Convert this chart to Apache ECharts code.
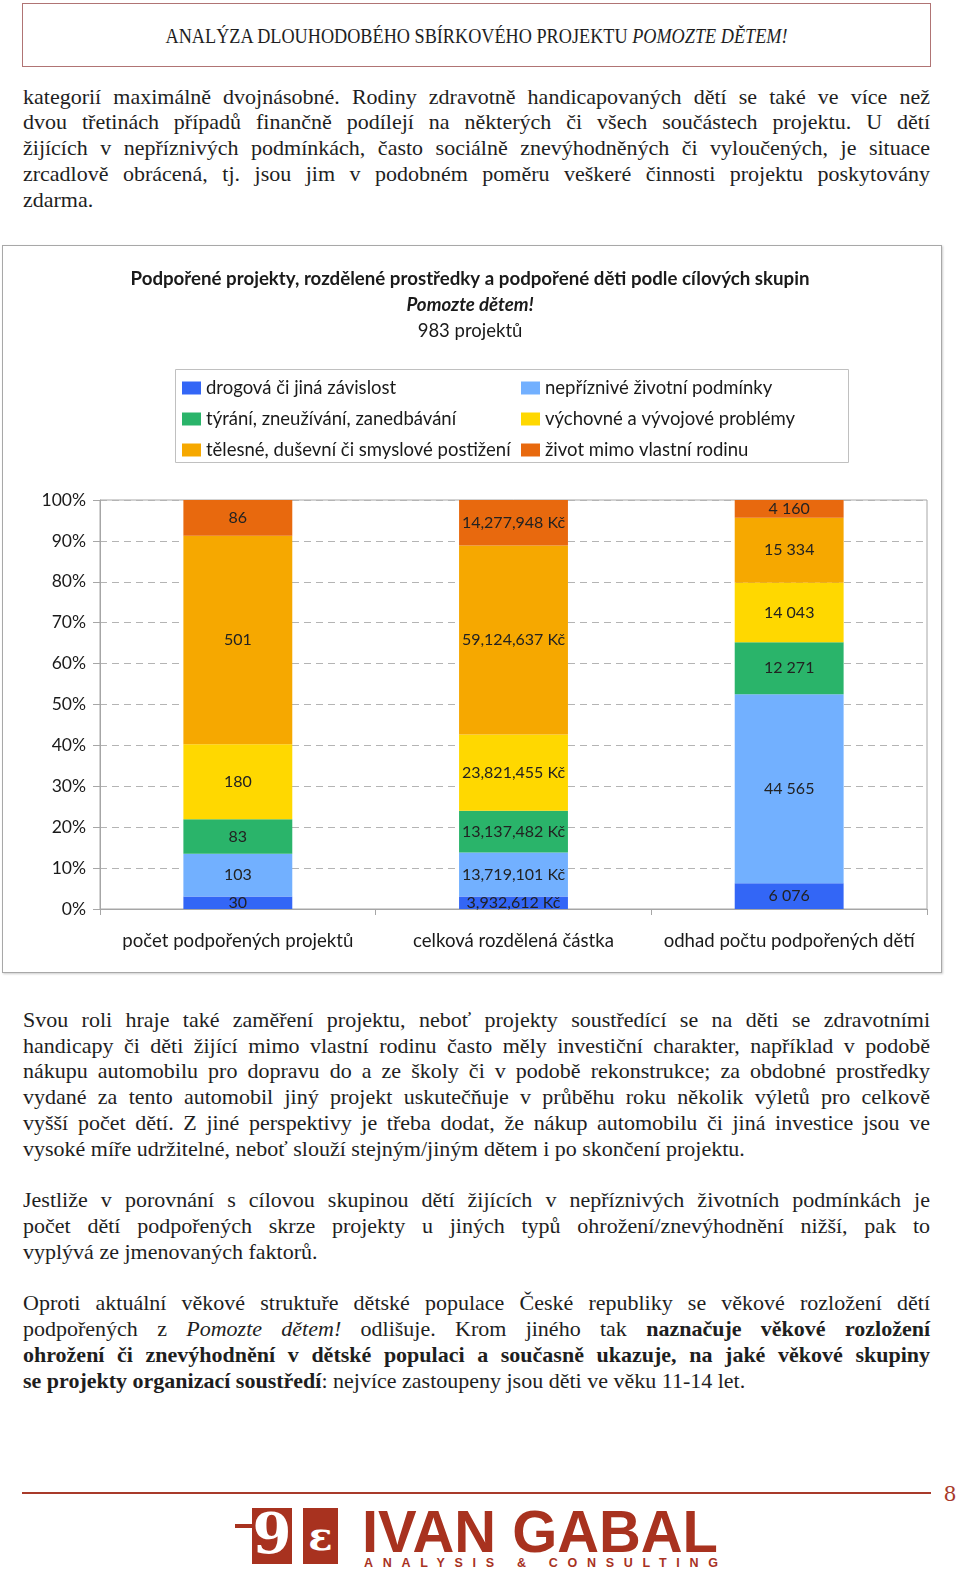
<!DOCTYPE html>
<html><head><meta charset="utf-8">
<script src="https://cdn.jsdelivr.net/npm/echarts@6/dist/echarts.min.js"></script>
<style>
html,body{margin:0;padding:0;background:#fff;}
body{width:960px;height:1573px;position:relative;overflow:hidden;font-family:"Liberation Serif",serif;color:#1e1e1e;}
.hdr{position:absolute;left:22px;top:3px;width:907px;height:62px;border:1px solid #b07474;}
.hdrw{position:absolute;left:0;width:954px;top:22px;text-align:center;font-size:22px;line-height:28px;white-space:nowrap;}
.hdrw span{display:inline-block;transform-origin:50% 50%;}
.ln{position:absolute;left:23px;width:907px;font-size:22px;line-height:26px;height:26px;white-space:nowrap;}
.j{text-align:justify;text-align-last:justify;}
#box{position:absolute;left:2px;top:245px;width:938px;height:726px;border:1px solid #a8a8a8;box-shadow:1px 1px 2px rgba(0,0,0,0.2);}
#chart{width:938px;height:726px;}
.rule{position:absolute;left:22px;top:1492px;width:909px;height:0;border-top:2px solid #a83a2a;}
.pg{position:absolute;left:944px;top:1479px;font-size:24px;line-height:28px;color:#a83a2a;}
.logo{position:absolute;left:362px;top:1502px;font-family:"Liberation Sans",sans-serif;font-weight:bold;font-size:60px;line-height:60px;color:#a8321f;white-space:nowrap;transform-origin:0 0;}
.logo2{position:absolute;left:364px;top:1556px;font-family:"Liberation Sans",sans-serif;font-weight:bold;font-size:12.5px;line-height:14px;color:#a8321f;white-space:nowrap;}
.blk{position:absolute;background:#a8321f;color:#fff;font-family:"DejaVu Serif",serif;font-weight:bold;text-align:center;overflow:hidden;}
</style></head>
<body>
<div class="hdr"></div>
<div class="hdrw"><span id="hdrspan">ANALÝZA DLOUHODOBÉHO SBÍRKOVÉHO PROJEKTU <i>POMOZTE DĚTEM!</i></span></div>

<div class="ln j" style="top:84px">kategorií maximálně dvojnásobné. Rodiny zdravotně handicapovaných dětí se také ve více než</div>
<div class="ln j" style="top:109px">dvou třetinách případů finančně podílejí na některých či všech součástech projektu. U dětí</div>
<div class="ln j" style="top:135px">žijících v&nbsp;nepříznivých podmínkách, často sociálně znevýhodněných či vyloučených, je situace</div>
<div class="ln j" style="top:161px">zrcadlově obrácená, tj. jsou jim v&nbsp;podobném poměru veškeré činnosti projektu poskytovány</div>
<div class="ln" style="top:187px">zdarma.</div>

<div id="box"><div id="chart"></div></div>

<div class="ln j" style="top:1007px">Svou roli hraje také zaměření projektu, neboť projekty soustředící se na děti se zdravotními</div>
<div class="ln j" style="top:1033px">handicapy či děti žijící mimo vlastní rodinu často měly investiční charakter, například v&nbsp;podobě</div>
<div class="ln j" style="top:1058px">nákupu automobilu pro dopravu do a ze školy či v&nbsp;podobě rekonstrukce; za obdobné prostředky</div>
<div class="ln j" style="top:1084px">vydané za tento automobil jiný projekt uskutečňuje v&nbsp;průběhu roku několik výletů pro celkově</div>
<div class="ln j" style="top:1110px">vyšší počet dětí. Z&nbsp;jiné perspektivy je třeba dodat, že nákup automobilu či jiná investice jsou ve</div>
<div class="ln" style="top:1136px">vysoké míře udržitelné, neboť slouží stejným/jiným dětem i po skončení projektu.</div>

<div class="ln j" style="top:1187px">Jestliže v&nbsp;porovnání s&nbsp;cílovou skupinou dětí žijících v&nbsp;nepříznivých životních podmínkách je</div>
<div class="ln j" style="top:1213px">počet dětí podpořených skrze projekty u jiných typů ohrožení/znevýhodnění nižší, pak to</div>
<div class="ln" style="top:1239px">vyplývá ze jmenovaných faktorů.</div>

<div class="ln j" style="top:1290px">Oproti aktuální věkové struktuře dětské populace České republiky se věkové rozložení dětí</div>
<div class="ln j" style="top:1316px">podpořených z <i>Pomozte dětem!</i> odlišuje. Krom jiného tak <b>naznačuje věkové rozložení</b></div>
<div class="ln j" style="top:1342px"><b>ohrožení či znevýhodnění v&nbsp;dětské populaci a současně ukazuje, na jaké věkové skupiny</b></div>
<div class="ln" style="top:1368px"><b>se projekty organizací soustředí</b>: nejvíce zastoupeny jsou děti ve věku 11-14 let.</div>

<div class="rule"></div>
<div class="pg">8</div>
<div class="blk" style="left:235px;top:1524px;width:20px;height:4px;"></div>
<div class="blk" style="left:252px;top:1508px;width:40px;height:56px;font-size:56px;line-height:50px;">9</div>
<div class="blk" style="left:303px;top:1508px;width:35px;height:56px;font-size:40px;line-height:56px;">ɛ</div>
<div class="logo" id="logo">IVAN GABAL</div>
<div class="logo2" id="logo2">ANALYSIS &amp; CONSULTING</div>

<script>
// ---- data ----
const categories = ['počet podpořených projektů', 'celková rozdělená částka', 'odhad počtu podpořených dětí'];
const seriesNames = ['drogová či jiná závislost', 'nepříznivé životní podmínky', 'týrání, zneužívání, zanedbávání',
  'výchovné a vývojové problémy', 'tělesné, duševní či smyslové postižení', 'život mimo vlastní rodinu'];
const drogova    = [30, 3932612, 6076];
const nepriznive = [103, 13719101, 44565];
const tyrani     = [83, 13137482, 12271];
const vychovne   = [180, 23821455, 14043];
const telesne    = [501, 59124637, 15334];
const zivotMimo  = [86, 14277948, 4160];
const titleLines = ['Podpořené projekty, rozdělené prostředky a podpořené děti podle cílových skupin', 'Pomozte dětem!', '983 projektů'];

// ---- chart ----
const raw = [drogova, nepriznive, tyrani, vychovne, telesne, zivotMimo];
const colors = ['#3366F6', '#72B0FF', '#2AB46A', '#FFD800', '#F6A800', '#E8690E'];
const totals = categories.map((c, i) => raw.reduce((s, a) => s + a[i], 0));
function fmt(i, v) {
  if (i === 0) return String(v);
  if (i === 1) return String(v).replace(/\B(?=(\d{3})+(?!\d))/g, ',') + ' Kč';
  return String(v).replace(/\B(?=(\d{3})+(?!\d))/g, ' ');
}
const F = 'Lato';
const chart = echarts.init(document.getElementById('chart'), null, {renderer: 'canvas'});
const legendCommon = {orient: 'vertical', top: 132, padding: 0,
  itemWidth: 19, itemHeight: 13, itemGap: 11, icon: 'rect',
  textStyle: {fontFamily: F, fontSize: 18.5, color: '#1a1a1a', lineHeight: 20}};
chart.setOption({
  animation: false,
  color: colors,
  grid: {left: 97, right: 14, top: 254, bottom: 63, show: true, borderColor: '#a6a6a6', borderWidth: 1},
  graphic: [
    {type: 'text', x: 467, y: 33, style: {text: titleLines[0], font: 'bold 18.7px Lato', fill: '#1a1a1a', align: 'center', verticalAlign: 'middle'}},
    {type: 'text', x: 467, y: 59, style: {text: titleLines[1], font: 'italic bold 18.7px Lato', fill: '#1a1a1a', align: 'center', verticalAlign: 'middle'}},
    {type: 'text', x: 467, y: 85, style: {text: titleLines[2], font: '18.5px Lato', fill: '#1a1a1a', align: 'center', verticalAlign: 'middle'}},
    {type: 'rect', shape: {x: 172.5, y: 123.5, width: 673, height: 93}, style: {fill: 'none', stroke: '#c0c0c0', lineWidth: 1}, z: -1}
  ],
  legend: [
    Object.assign({data: [seriesNames[0], seriesNames[2], seriesNames[4]], left: 179}, legendCommon),
    Object.assign({data: [seriesNames[1], seriesNames[3], seriesNames[5]], left: 518}, legendCommon)
  ],
  xAxis: {
    type: 'category', data: categories,
    axisLine: {lineStyle: {color: '#a6a6a6'}},
    axisTick: {show: true, length: 6, lineStyle: {color: '#a6a6a6'}},
    axisLabel: {interval: 0, fontFamily: F, fontSize: 18.6, color: '#1a1a1a', margin: 22}
  },
  yAxis: {
    type: 'value', min: 0, max: 100, interval: 10,
    axisLine: {show: true, lineStyle: {color: '#a6a6a6'}},
    axisTick: {show: true, length: 7, lineStyle: {color: '#a6a6a6'}},
    splitLine: {lineStyle: {color: '#b4b4b4', type: [7, 5]}},
    axisLabel: {formatter: '{value}%', fontFamily: F, fontSize: 17.5, color: '#1a1a1a', margin: 14}
  },
  series: raw.map((arr, k) => ({
    name: seriesNames[k], type: 'bar', stack: 'all', barWidth: '39.5%',
    itemStyle: {color: colors[k]},
    label: {show: true, position: 'inside', formatter: p => fmt(p.dataIndex, arr[p.dataIndex]),
      fontFamily: F, fontSize: 16, color: '#222'},
    data: arr.map((v, i) => v / totals[i] * 100)
  }))
});

// ---- text fitting ----
function fit() {
  const h = document.getElementById('hdrspan');
  h.style.transform = 'scaleX(' + (622 / h.getBoundingClientRect().width) + ')';
  document.querySelectorAll('.ln.j').forEach(el => {
    el.style.textAlign = 'left'; el.style.textAlignLast = 'left';
    const r = document.createRange(); r.selectNodeContents(el);
    const w = r.getBoundingClientRect().width;
    el.style.textAlign = ''; el.style.textAlignLast = '';
    if (w > 900) el.style.letterSpacing = ((900 - w) / el.textContent.length) + 'px';
  });
  const lg = document.getElementById('logo');
  lg.style.transform = 'scaleX(' + (356 / lg.getBoundingClientRect().width) + ')';
  const l2 = document.getElementById('logo2');
  const n = l2.textContent.length;
  const w2 = l2.getBoundingClientRect().width;
  l2.style.letterSpacing = ((354 - w2) / (n - 1)) + 'px';
}
fit();
</script>
</body></html>
